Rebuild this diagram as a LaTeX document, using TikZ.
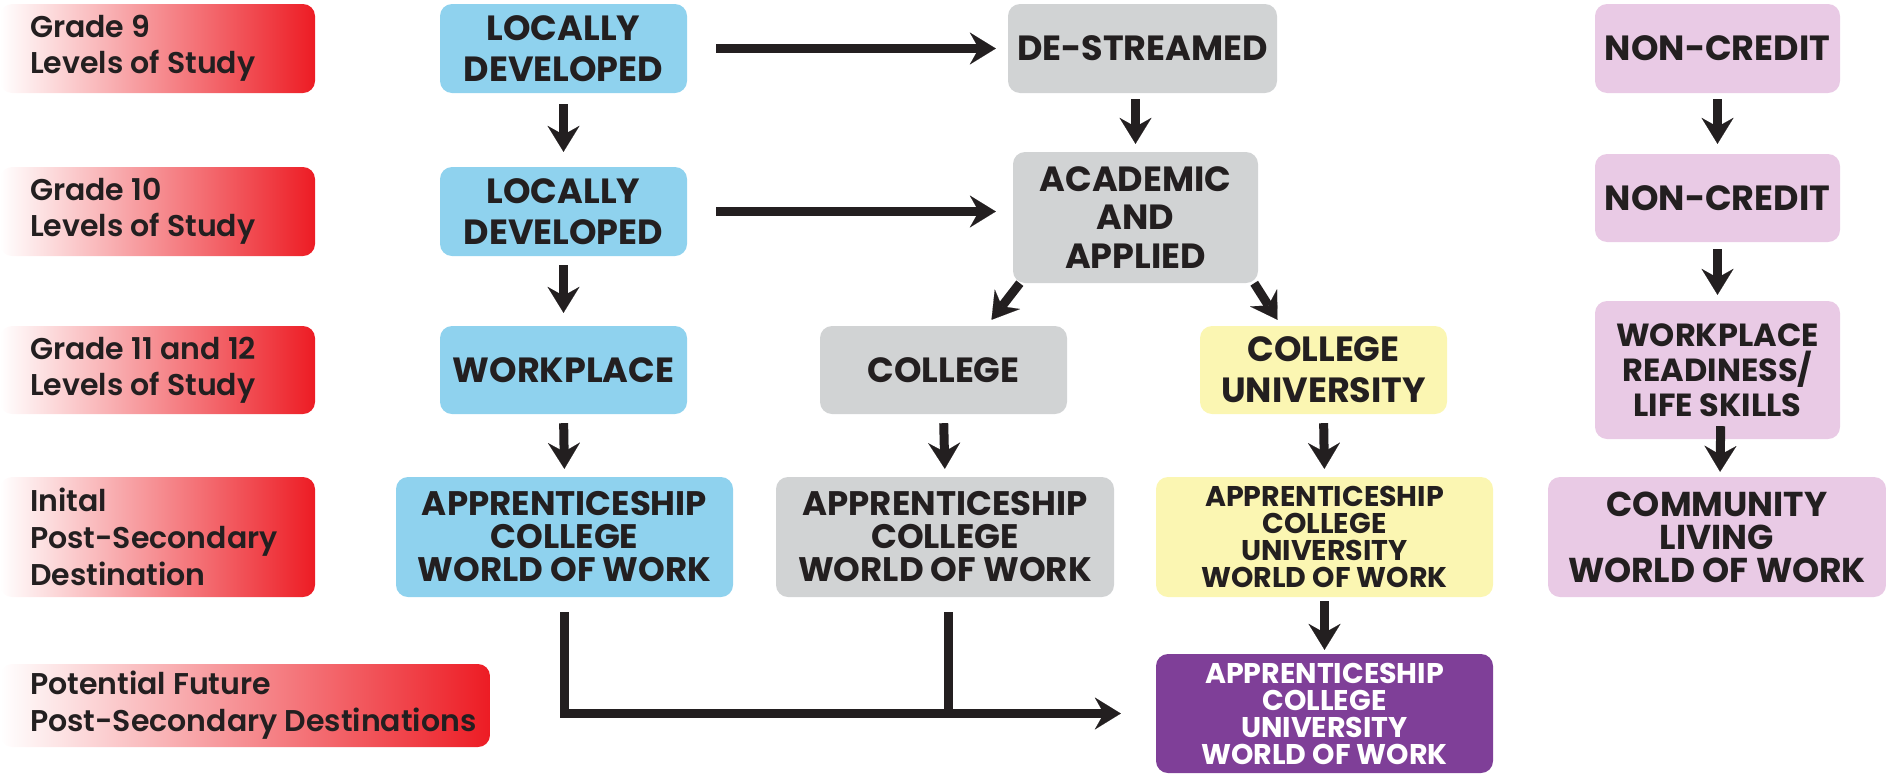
\documentclass[tikz,border=0pt]{standalone}
\usepackage{fontspec}
\setmainfont{Poppins}
\newfontfamily\labfont{Poppins SemiBold}
\usetikzlibrary{arrows.meta,calc}
\definecolor{ink}{RGB}{35,31,32}
\definecolor{cblue}{RGB}{143,210,238}
\definecolor{cgrey}{RGB}{209,211,212}
\definecolor{cyellow}{RGB}{251,246,178}
\definecolor{cpink}{RGB}{233,202,229}
\definecolor{cpurple}{RGB}{127,63,152}
\definecolor{cred}{RGB}{237,28,36}
\tikzset{
  box/.style={rounded corners=12pt, align=center, inner sep=0pt, text=ink},
  big/.style={font=\fontsize{35}{41}\selectfont\bfseries},
  mid/.style={font=\fontsize{34}{33}\selectfont\bfseries},
  small/.style={font=\fontsize{28.5}{27}\selectfont\bfseries},
  lab/.style={rounded corners=12pt, left color=white, right color=cred, inner sep=0pt},
  labtext/.style={anchor=west, xshift=30pt, align=left, inner sep=0pt, text=ink, font=\fontsize{30}{36}\selectfont\labfont},
  arr/.style={draw=ink, line width=9pt, -{Stealth[length=26pt,width=32pt,inset=9pt,line width=0.1pt]}},
  conn/.style={draw=ink, line width=9pt},
}
\begin{document}
\begin{tikzpicture}[x=1pt,y=-1pt]
\useasboundingbox (0,0) rectangle (1886,777);
% level labels
\node[lab, minimum width=315pt, minimum height=89pt] (L1) at (157.5,48.5) {};
\node[labtext] (L1t) at (L1.west) {Grade 9\\Levels of Study};
\node[lab, minimum width=315pt, minimum height=89pt] (L2) at (157.5,211.5) {};
\node[labtext] (L2t) at (L2.west) {Grade 10\\Levels of Study};
\node[lab, minimum width=315pt, minimum height=88pt] (L3) at (157.5,370) {};
\node[labtext] (L3t) at (L3.west) {Grade 11 and 12\\Levels of Study};
\node[lab, minimum width=315pt, minimum height=120pt] (L4) at (157.5,537) {};
\node[labtext, font=\fontsize{30}{37}\selectfont\labfont] (L4t) at (L4.west) {Inital\\Post-Secondary\\Destination};
\node[lab, minimum width=490pt, minimum height=83pt] (L5) at (245,705.5) {};
\node[labtext, font=\fontsize{30}{37}\selectfont\labfont] (L5t) at (L5.west) {Potential Future\\Post-Secondary Destinations};
% blue column
\node[box, big, fill=cblue, minimum width=247pt, minimum height=89pt] (LD1) at (563.5,48.5) {LOCALLY\\DEVELOPED};
\node[box, big, fill=cblue, minimum width=247pt, minimum height=89pt] (LD2) at (563.5,211.5) {LOCALLY\\DEVELOPED};
\node[box, big, fill=cblue, minimum width=247pt, minimum height=88pt] (WP) at (563.5,370) {WORKPLACE};
\node[box, mid, fill=cblue, minimum width=337pt, minimum height=120pt] (BAP) at (564.5,537) {APPRENTICESHIP\\COLLEGE\\WORLD OF WORK};
% grey column
\node[box, big, fill=cgrey, minimum width=269pt, minimum height=89pt] (DS) at (1142.5,48.5) {DE-STREAMED};
\node[box, fill=cgrey, minimum width=245pt, minimum height=131pt, font=\fontsize{35}{38.5}\selectfont\bfseries] (AA) at (1135.5,217.5) {ACADEMIC\\AND\\APPLIED};
\node[box, big, fill=cgrey, minimum width=247pt, minimum height=88pt] (COL) at (943.5,370) {COLLEGE};
\node[box, mid, fill=cgrey, minimum width=338pt, minimum height=120pt] (GAP) at (945,537) {APPRENTICESHIP\\COLLEGE\\WORLD OF WORK};
% yellow / purple column
\node[box, big, fill=cyellow, minimum width=247pt, minimum height=88pt] (CU) at (1323.5,370) {COLLEGE\\UNIVERSITY};
\node[box, small, fill=cyellow, minimum width=337pt, minimum height=120pt] (YAP) at (1324.5,537) {APPRENTICESHIP\\COLLEGE\\UNIVERSITY\\WORLD OF WORK};
\node[box, small, fill=cpurple, text=white, minimum width=337pt, minimum height=119pt] (PUR) at (1324.5,713.5) {APPRENTICESHIP\\COLLEGE\\UNIVERSITY\\WORLD OF WORK};
% pink column
\node[box, big, fill=cpink, minimum width=245pt, minimum height=89pt] (NC1) at (1717.5,48.5) {NON-CREDIT};
\node[box, big, fill=cpink, minimum width=245pt, minimum height=88pt] (NC2) at (1717.5,198) {NON-CREDIT};
\node[box, fill=cpink, minimum width=245pt, minimum height=138pt, font=\fontsize{32}{35}\selectfont\bfseries] (WR) at (1717.5,370) {WORKPLACE\\READINESS/\\LIFE SKILLS};
\node[box, fill=cpink, minimum width=338pt, minimum height=120pt, font=\fontsize{34.5}{33}\selectfont\bfseries] (COM) at (1717,537) {COMMUNITY\\LIVING\\WORLD OF WORK};
% arrows
\draw[arr, shorten <=29pt, shorten >=12pt] (LD1.east) -- (LD1.east -| DS.west);
\draw[arr, shorten <=29pt, shorten >=17pt] (LD2.east) -- (LD2.east -| AA.west);
\draw[arr, shorten <=11pt, shorten >=15pt] (LD1.south) -- (LD2.north);
\draw[arr, shorten <=9pt, shorten >=13pt] (LD2.south) -- (WP.north);
\draw[arr, shorten <=9pt, shorten >=8pt] (WP.south) -- (BAP.north);
\draw[arr, shorten <=6pt, shorten >=8pt] (DS.south -| AA.north) -- (AA.north);
\draw[arr] ([xshift=7pt]AA.south west) -- ([xshift=48pt,yshift=6pt]COL.north);
\draw[arr] ([xshift=-4pt]AA.south east) -- ([xshift=-46pt,yshift=6pt]CU.north);
\draw[arr, shorten <=9pt, shorten >=8pt] (COL.south) -- (GAP.north);
\draw[arr, shorten <=9pt, shorten >=8pt] (CU.south) -- (YAP.north);
\draw[arr, shorten <=4pt, shorten >=4pt] (YAP.south) -- (PUR.north);
\draw[arr, shorten <=6pt, shorten >=10pt] (NC1.south) -- (NC2.north);
\draw[arr, shorten <=7pt, shorten >=6pt] (NC2.south) -- (WR.north);
\draw[arr, shorten <=-13pt, shorten >=5pt] ([xshift=3pt]WR.south) -- ([xshift=3pt]COM.north);
\draw[arr, shorten >=35pt] ([yshift=-15pt]BAP.south) |- (PUR.west);
\draw[conn] ([yshift=-15pt,xshift=3pt]GAP.south) -- ([xshift=3pt]GAP.south |- PUR.west);
\end{tikzpicture}
\end{document}
